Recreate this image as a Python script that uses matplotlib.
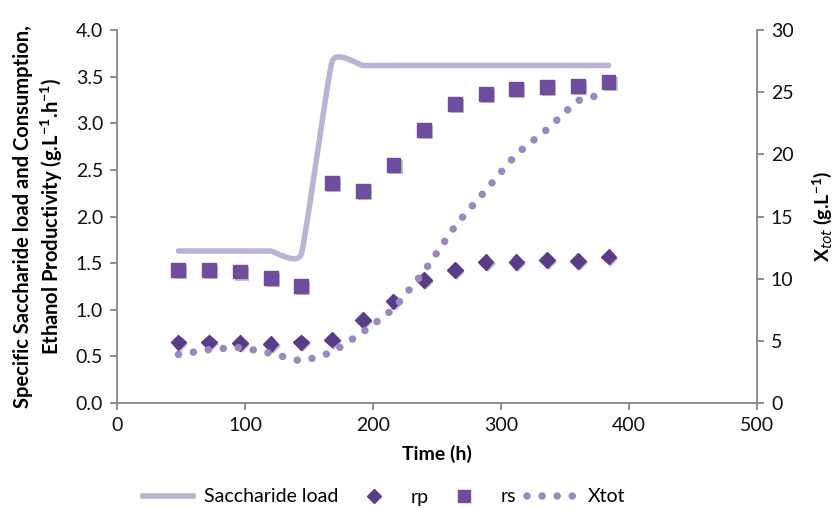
import numpy as np
import matplotlib
matplotlib.use("Agg")
import matplotlib.pyplot as plt
import matplotlib.patheffects as pe
from matplotlib.lines import Line2D

# -----------------------------
# DATA
# -----------------------------
time_h = [48, 72, 96, 120, 144, 168, 192, 216, 240, 264, 288, 312, 336, 360, 384]
saccharide_load = [1.63, 1.63, 1.63, 1.63, 1.60, 3.66, 3.62, 3.62, 3.62, 3.62, 3.62, 3.62, 3.62, 3.62, 3.62]
rp = [0.65, 0.65, 0.64, 0.63, 0.65, 0.68, 0.89, 1.09, 1.32, 1.43, 1.51, 1.51, 1.53, 1.52, 1.57]
rs = [1.43, 1.43, 1.41, 1.34, 1.25, 2.36, 2.27, 2.55, 2.93, 3.21, 3.31, 3.37, 3.39, 3.40, 3.44]
xtot = [3.9, 4.3, 4.45, 4.0, 3.4, 4.1, 5.7, 7.6, 10.6, 14.2, 17.1, 20.0, 22.0, 24.3, 24.9]

plt.rcParams["font.family"] = ["Lato", "DejaVu Sans"]
plt.rcParams["mathtext.default"] = "regular"

GREY = "#868686"
C_LOAD = "#BCB2D3"
C_RP = "#5B3C88"
C_RS = "#6E4C9E"
C_XTOT = "#9B88BE"


def smooth(x, y, tension=0.2, n=30):
    # Excel-like smoothed line drawn through the points (cubic Hermite)
    x = np.asarray(x, float)
    y = np.asarray(y, float)
    mx = np.gradient(x) * 2 * tension
    my = np.empty_like(y)
    my[1:-1] = (y[2:] - y[:-2]) * tension
    my[0] = (y[1] - y[0]) * 2 * tension
    my[-1] = (y[-1] - y[-2]) * 2 * tension
    xs, ys = [], []
    t = np.linspace(0, 1, n)
    h00 = 2 * t**3 - 3 * t**2 + 1
    h10 = t**3 - 2 * t**2 + t
    h01 = -2 * t**3 + 3 * t**2
    h11 = t**3 - t**2
    for i in range(len(x) - 1):
        xs.append(h00 * x[i] + h10 * mx[i] + h01 * x[i + 1] + h11 * mx[i + 1])
        ys.append(h00 * y[i] + h10 * my[i] + h01 * y[i + 1] + h11 * my[i + 1])
    return np.concatenate(xs), np.concatenate(ys)


fig = plt.figure(figsize=(8.32, 5.08), dpi=100)
ax = fig.add_axes([117 / 832, 1 - 403 / 508, 640 / 832, 373 / 508])
ax2 = ax.twinx()

shadow = [pe.SimplePatchShadow(offset=(1.5, -1.5), alpha=0.35, shadow_rgbFace="#555555"), pe.Normal()]

sx, sy = smooth(time_h, saccharide_load)
ax.plot(sx, sy, color=C_LOAD, lw=4, solid_capstyle="round", zorder=2)
ax.plot(time_h, rp, ls="none", marker="D", ms=8, color=C_RP, zorder=3, path_effects=shadow)
ax.plot(time_h, rs, ls="none", marker="s", ms=10, color=C_RS, zorder=3, path_effects=shadow)

xx, xy = smooth(time_h, xtot)
ax2.plot(xx, xy, color=C_XTOT, lw=5.4, ls=(0, (0.01, 2.0)), dash_capstyle="round")

# axes styling
ax.set_xlim(0, 500)
ax.set_ylim(0, 4.0)
ax2.set_ylim(0, 30)
ax.set_xticks(range(0, 501, 100))
ax.set_yticks(np.arange(0, 4.01, 0.5))
ax.set_yticklabels([f"{v:.1f}" for v in np.arange(0, 4.01, 0.5)])
ax2.set_yticks(range(0, 31, 5))

for a in (ax, ax2):
    a.spines["top"].set_visible(False)
    for s in ("left", "right", "bottom"):
        a.spines[s].set_color(GREY)
        a.spines[s].set_linewidth(1.3)
    a.tick_params(colors=GREY, labelcolor="#111111", labelsize=14, length=5, width=1.3,
                  direction="out", pad=5)
ax.spines["right"].set_visible(False)
ax2.spines["left"].set_visible(False)
ax2.spines["bottom"].set_visible(False)

ax.set_xlabel("Time (h)", fontsize=14, fontweight="bold", labelpad=8)
ax.set_ylabel("Specific Saccharide load and Consumption,\nEthanol Productivity (g.L$^{-1}$.h$^{-1}$)",
              fontsize=14.5, fontweight="bold", labelpad=8, linespacing=1.25)
ax2.set_ylabel("X$_{\\it{tot}}$ (g.L$^{-1}$)", fontsize=14, fontweight="bold", labelpad=12)

handles = [
    Line2D([], [], color=C_LOAD, lw=4),
    Line2D([], [], ls="none", marker="D", ms=7, color=C_RP),
    Line2D([], [], ls="none", marker="s", ms=8, color=C_RS),
    Line2D([], [], color=C_XTOT, lw=5.4, ls=(0, (0.01, 2.0)), dash_capstyle="round"),
]
fig.legend(handles, ["Saccharide load", "rp", "rs", "Xtot"], loc="center",
           bbox_to_anchor=(384 / 832, 11 / 508), ncol=4, frameon=False, fontsize=14,
           handlelength=2.6, handletextpad=0.55, columnspacing=0.55, borderpad=0)

fig.savefig("out.png", dpi=100)
